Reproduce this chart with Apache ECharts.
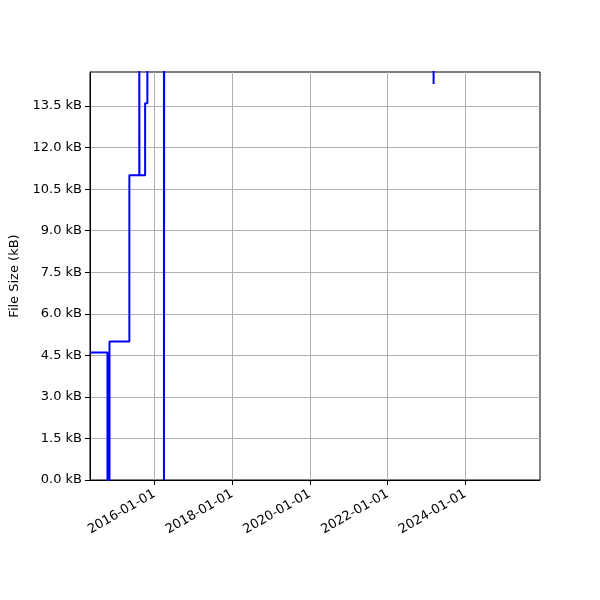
<!DOCTYPE html>
<html>
<head>
<meta charset="utf-8">
<script src="https://cdn.jsdelivr.net/npm/echarts@6/dist/echarts.min.js"></script>
<style>html,body{margin:0;padding:0;background:#fff}#c{width:600px;height:600px}</style>
</head>
<body>
<div id="c"></div>
<script>
// Change dates (step-post) and file sizes in kB (values above the axis top are clipped)
const dates = ['2014-05-06','2014-10-17','2014-11-05','2015-05-11','2015-08-12','2015-08-14','2015-10-06','2015-10-27','2016-03-31','2016-04-02','2017-06-01','2019-02-01','2021-05-01','2023-03-09','2023-03-12','2024-07-01','2025-12-03'];
const sizes = [4.6, 0, 5.0, 11.0, 15.4, 11.0, 13.6, 15.2, 0, 15.6, 16.3, 17.1, 17.8, 14.3, 18.2, 18.9, 18.9];
const xTickLabels = ['2016-01-01','2018-01-01','2020-01-01','2022-01-01','2024-01-01'];
const yTicks = [0, 1.5, 3.0, 4.5, 6.0, 7.5, 9.0, 10.5, 12.0, 13.5];
const xRange = ['2014-05-06','2025-12-03'];
const yMax = 14.73;

function ts(s){ const p = s.split('-').map(Number); return Date.UTC(p[0], p[1]-1, p[2]); }
function fmt(t){ const d = new Date(t); const p = n => String(n).padStart(2,'0'); return d.getUTCFullYear()+'-'+p(d.getUTCMonth()+1)+'-'+p(d.getUTCDate()); }

const data = dates.map((d,i) => [ts(d), sizes[i]]);
const xTicks = xTickLabels.map(ts);
const font = 'DejaVu Sans';

const chart = echarts.init(document.getElementById('c'), null, {renderer:'canvas'});
chart.setOption({
  animation: false,
  backgroundColor: '#fff',
  grid: {left: 90, right: 60, top: 72, bottom: 120, show: true, borderColor: '#000', borderWidth: 1, outerBoundsMode: 'none', containLabel: false},
  xAxis: {
    type: 'value',
    min: ts(xRange[0]), max: ts(xRange[1]),
    axisLine: {show: true, lineStyle: {color: '#000', width: 1}},
    axisTick: {show: true, inside: false, length: 5, lineStyle: {color: '#000'}, customValues: xTicks},
    axisLabel: {customValues: xTicks, rotate: 30, margin: 13, color: '#000', fontFamily: font, fontSize: 13, formatter: v => fmt(v)},
    splitLine: {show: true, lineStyle: {color: '#b0b0b0', width: 1}}
  },
  yAxis: {
    type: 'value', min: 0, max: yMax,
    name: 'File Size (kB)', nameLocation: 'middle', nameRotate: 90, nameGap: 68,
    nameTextStyle: {color: '#000', fontFamily: font, fontSize: 13},
    axisLine: {show: true, lineStyle: {color: '#000', width: 1}},
    axisTick: {show: true, inside: false, length: 5, lineStyle: {color: '#000'}, customValues: yTicks},
    axisLabel: {customValues: yTicks, margin: 8, color: '#000', fontFamily: font, fontSize: 13, formatter: v => v.toFixed(1) + ' kB'},
    splitLine: {show: true, lineStyle: {color: '#b0b0b0', width: 1}}
  },
  series: [{
    type: 'line', step: 'end', data: data, showSymbol: false, symbol: 'none', clip: true,
    lineStyle: {color: '#0000ff', width: 2}
  }]
});
</script>
</body>
</html>
